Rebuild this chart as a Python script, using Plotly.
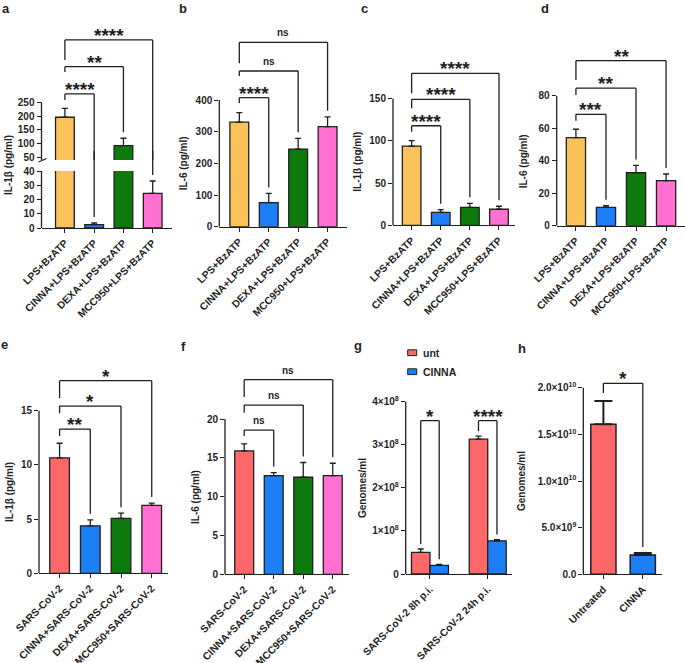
import plotly.graph_objects as go

W, H = 685, 663
FONT = "Liberation Sans, Arial, Helvetica, sans-serif"
INK = "#1f1f1f"
LW = 1.3
ORANGE, BLUE, GREEN, PINK, RED = "#FCC25A", "#1D7FF6", "#0C7A0C", "#FF70D2", "#FF6868"
BARGAP = 0.36

# ---------------- data ----------------
lps_groups = ["LPS+BzATP", "CINNA+LPS+BzATP", "DEXA+LPS+BzATP", "MCC950+LPS+BzATP"]
sars_groups = ["SARS-CoV-2", "CINNA+SARS-CoV-2", "DEXA+SARS-CoV-2", "MCC950+SARS-CoV-2"]
time_groups = ["SARS-CoV-2 8h p.i.", "SARS-CoV-2 24h p.i."]
h_groups = ["Untreated", "CINNA"]

a_il1b = [195.5, 2.4, 92.0, 24.3]
a_sem = [32.5, 1.1, 27.0, 8.7]
b_il6 = [330.0, 76.0, 245.0, 316.0]
b_sem = [30.0, 29.0, 34.0, 31.0]
c_il1b = [93.7, 15.3, 21.3, 19.0]
c_sem = [6.3, 3.2, 4.7, 3.5]
d_il6 = [54.3, 11.3, 32.7, 27.8]
d_sem = [5.2, 1.0, 4.5, 4.1]
e_il1b = [10.65, 4.38, 5.06, 6.26]
e_sem = [1.35, 0.55, 0.49, 0.22]
f_il6 = [15.9, 12.7, 12.5, 12.7]
f_sem = [0.9, 0.4, 1.9, 1.6]
g_unt = [5.0e7, 3.13e8]
g_unt_sem = [0.8e7, 0.07e8]
g_cinna = [2.0e7, 7.7e7]
g_cinna_sem = [0.25e7, 0.3e7]
h_genomes = [1.608e10, 2.07e9]
h_sem = [0.25e10, 0.21e9]

a_sig = ["****", "**", "****"]
b_sig = ["****", "ns", "ns"]
c_sig = ["****", "****", "****"]
d_sig = ["***", "**", "**"]
e_sig = ["**", "*", "*"]
f_sig = ["ns", "ns", "ns"]
g_sig = ["*", "****"]
h_sig = ["*"]

a_ticks_lo = [0, 10, 20, 30, 40]
a_ticks_hi = [50, 100, 150, 200, 250]
b_ticks = [0, 100, 200, 300, 400]
c_ticks = [0, 50, 100, 150]
d_ticks = [0, 20, 40, 60, 80]
e_ticks = [0, 5, 10, 15]
f_ticks = [0, 5, 10, 15, 20]
g_ticks = [0, 1e8, 2e8, 3e8, 4e8]
g_ticktext = ["0", "1×10<sup>8</sup>", "2×10<sup>8</sup>", "3×10<sup>8</sup>", "4×10<sup>8</sup>"]
h_ticks = [0, 5e9, 1e10, 1.5e10, 2e10]
h_ticktext = ["0.0", "5.0×10<sup>9</sup>", "1.0×10<sup>10</sup>", "1.5×10<sup>10</sup>", "2.0×10<sup>10</sup>"]

lps_colors = [ORANGE, BLUE, GREEN, PINK]
sars_colors = [RED, BLUE, GREEN, PINK]

# ---------------- helpers ----------------
fig = go.Figure()
L = dict(width=W, height=H, margin=dict(l=0, r=0, t=0, b=0, autoexpand=False), paper_bgcolor="white",
         plot_bgcolor="rgba(0,0,0,0)", barmode="group", bargap=BARGAP, bargroupgap=0,
         showlegend=False, font=dict(family=FONT, color=INK))
shapes, annots = [], []


def X(px):
    return min(1.0, px / W)


def Y(py):
    return 1 - py / H


def bold(size):
    return dict(family=FONT, size=size, color=INK, weight="bold")


def x_axis(key, px, rng, anchor, cats):
    L[key] = dict(domain=[X(px[0]), X(px[1])], range=list(rng), anchor=anchor, type="category",
                  categoryorder="array", categoryarray=cats, showline=True, linecolor=INK,
                  linewidth=LW, ticks="outside", ticklen=4, tickwidth=LW, tickcolor=INK,
                  tickangle=-45, tickfont=bold(10.3), showgrid=False, zeroline=False,
                  automargin=False)
    return "x" + key[5:]


def y_axis(key, px, rng, anchor, tickvals, ticktext=None):
    L[key] = dict(domain=[Y(px[0]), Y(px[1])], range=list(rng), anchor=anchor, showline=False,
                  ticks="outside", ticklen=4, tickwidth=LW, tickcolor=INK, tickvals=tickvals,
                  tickfont=bold(10), showgrid=False, zeroline=False, automargin=False)
    if ticktext is not None:
        L[key]["ticktext"] = ticktext
    ref = "y" + key[5:]
    shapes.append(dict(type="line", xref=anchor + " domain", yref=ref, x0=0, x1=0,
                       y0=rng[0], y1=tickvals[-1], line=dict(color=INK, width=LW)))
    return ref


def per_px(ref):
    ax = L["yaxis" + ref[1:]]
    return (ax["range"][1] - ax["range"][0]) / ((ax["domain"][1] - ax["domain"][0]) * H)


def line(xref, yref, x0, y0, x1, y1):
    shapes.append(dict(type="line", xref=xref, yref=yref, x0=x0, y0=y0, x1=x1, y1=y1,
                       line=dict(color=INK, width=LW)))


def sig(xref, yref, x, y, text):
    star = "*" in text
    annots.append(dict(xref=xref, yref=yref, x=x, y=y, text=text, showarrow=False,
                       xanchor="center", yanchor="middle", yshift=4.4 if star else 9.4,
                       font=bold(19 if star else 10)))


def bracket(xref, yref, xl, xr, yb, lb, rb, text):
    line(xref, yref, xl, yb, xr, yb)
    line(xref, yref, xl, lb, xl, yb)
    line(xref, yref, xr, rb, xr, yb)
    sig(xref, yref, (xl + xr) / 2, yb, text)


def bars(xref, yref, cats, vals, sems, colors, err_w=3, err_t=LW, outline=LW, name=None):
    fig.add_trace(go.Bar(
        x=cats, y=vals, xaxis=xref, yaxis=yref, name=name,
        marker=dict(color=colors, line=dict(color=INK, width=outline)),
        error_y=dict(type="data", array=sems, arrayminus=[0] * len(sems), symmetric=False,
                     color=INK, thickness=err_t, width=err_w),
        showlegend=False))


def ytitle(xpx, ypx, text):
    annots.append(dict(xref="paper", yref="paper", x=X(xpx), y=Y(ypx), text=text, textangle=-90,
                       showarrow=False, xanchor="center", yanchor="middle", font=bold(10)))


def letter(xpx, base_px, ch):
    # keep the text box inside the page
    top_px = max(0.0, base_px - 0.905 * 13)
    annots.append(dict(xref="paper", yref="paper", x=X(xpx), y=Y(top_px), text=ch, borderpad=0,
                       showarrow=False, xanchor="left", yanchor="top", font=bold(13)))


GAP = 6  # px between error bar and bracket leg

# ---------------- panel a (broken axis) ----------------
xa = x_axis("xaxis", (41.5, 172), (-0.8, 3.66), "y", lps_groups)
ya_lo = y_axis("yaxis", (228, 171), (0, 40), xa, a_ticks_lo)
ya_hi = y_axis("yaxis2", (160, 30), (40, 512.7), xa, a_ticks_hi)
for yr in (ya_lo, ya_hi):
    bars(xa, yr, lps_groups, a_il1b, a_sem, lps_colors)
# break mark on the axis
shapes.append(dict(type="line", xref="paper", yref="paper", x0=X(38.5), y0=Y(162), x1=X(46.5),
                   y1=Y(158.5), line=dict(color=INK, width=LW)))
a_h = [280.2, 379.5, 476.5]
a_leg = [6, 5.3, 20]
for k, i in enumerate([1, 2, 3]):
    yb = a_h[k]
    top = a_il1b[i] + a_sem[i]
    line(xa, ya_hi, 0, yb, i, yb)
    line(xa, ya_hi, 0, yb - a_leg[k] * per_px(ya_hi), 0, yb)
    if top <= L["yaxis"]["range"][1]:
        line(xa, ya_lo, i, top + GAP * per_px(ya_lo), i, L["yaxis"]["range"][1])
        line(xa, ya_lo + " domain", i, 1.0, i, 1.35)
        line(xa, ya_hi, i, L["yaxis2"]["range"][0], i, yb)
    else:
        line(xa, ya_hi, i, top + GAP * per_px(ya_hi), i, yb)
    sig(xa, ya_hi, i / 2, yb, a_sig[k])


# ---------------- four-bar panels ----------------
def four_panel(xkey, ykey, xpx, xrng, ypx, yrng, ticks, cats, vals, sems, colors, heights, legs, sigs):
    xr = x_axis(xkey, xpx, xrng, "y" + ykey[5:], cats)
    yr = y_axis(ykey, ypx, yrng, xr, ticks)
    bars(xr, yr, cats, vals, sems, colors)
    pp = per_px(yr)
    for k, i in enumerate([1, 2, 3]):
        bracket(xr, yr, 0, i, heights[k], heights[k] - legs[k] * pp,
                vals[i] + sems[i] + GAP * pp, sigs[k])


four_panel("xaxis2", "yaxis3", (219.3, 347), (-0.68, 3.66), (226.7, 30), (0, 621.1), b_ticks,
           lps_groups, b_il6, b_sem, lps_colors, [407.3, 491.6, 582.3], [5.3, 5, 21], b_sig)
four_panel("xaxis3", "yaxis4", (393, 515), (-0.64, 3.55), (225.3, 30), (0, 230.9), c_ticks,
           lps_groups, c_il1b, c_sem, lps_colors, [117.7, 148.9, 179.7], [6, 9, 20], c_sig)
four_panel("xaxis4", "yaxis5", (556.7, 685), (-0.64, 3.63), (225.7, 30), (0, 120.7), d_ticks,
           lps_groups, d_il6, d_sem, lps_colors, [68.7, 84.8, 101.8], [6.4, 6.7, 19.3], d_sig)
four_panel("xaxis5", "yaxis6", (39, 168), (-0.67, 3.53), (573.3, 360), (0, 19.68), e_ticks,
           sars_groups, e_il1b, e_sem, sars_colors, [13.31, 15.43, 17.77], [7, 7.3, 17.6], e_sig)
four_panel("xaxis6", "yaxis7", (225, 349), (-0.65, 3.55), (574.3, 360), (0, 27.6), f_ticks,
           sars_groups, f_il6, f_sem, sars_colors, [18.58, 21.8, 25.07], [6, 7.7, 17.4], f_sig)

# ---------------- panel g ----------------
xg = x_axis("xaxis7", (405.7, 512), (-0.42, 1.42), "y8", time_groups)
yg = y_axis("yaxis8", (574, 380), (0, 4.504e8), xg, g_ticks, g_ticktext)
bars(xg, yg, time_groups, g_unt, g_unt_sem, RED, name="unt")
bars(xg, yg, time_groups, g_cinna, g_cinna_sem, BLUE, name="CINNA")
off = (1 - BARGAP) / 4
ppg = per_px(yg)
g_h = [3.559e8, 3.559e8]
for i in range(2):
    bracket(xg, yg, i - off, i + off, g_h[i], g_unt[i] + g_unt_sem[i] + 5 * ppg,
            g_cinna[i] + g_cinna_sem[i] + 5 * ppg, g_sig[i])
# legend
for name, col, cy in (("unt", RED, 352.7), ("CINNA", BLUE, 371.7)):
    shapes.append(dict(type="rect", xref="paper", yref="paper", x0=X(407.7), x1=X(416.7),
                       y0=Y(cy + 2.9), y1=Y(cy - 2.9), fillcolor=col, line=dict(color=INK, width=1)))
    annots.append(dict(xref="paper", yref="paper", x=X(421), y=Y(cy), text=name, showarrow=False,
                       xanchor="left", yanchor="middle", font=bold(10.5)))

# ---------------- panel h ----------------
xh = x_axis("xaxis8", (583.3, 661.7), (-0.51, 1.48), "y9", h_groups)
yh = y_axis("yaxis9", (574.3, 370), (0, 2.19e10), xh, h_ticks, h_ticktext)
bars(xh, yh, h_groups, h_genomes, h_sem, [RED, BLUE], err_w=9, err_t=2, outline=1.5)
pph = per_px(yh)
bracket(xh, yh, 0, 1, 2.047e10, h_genomes[0] + h_sem[0] + 8 * pph,
        h_genomes[1] + h_sem[1] + 6 * pph, h_sig[0])

# ---------------- titles & letters ----------------
ytitle(8, 165, "IL-1β (pg/ml)")
ytitle(183.3, 163, "IL-6 (pg/ml)")
ytitle(356.7, 162, "IL-1β (pg/ml)")
ytitle(523.3, 161, "IL-6 (pg/ml)")
ytitle(9, 492, "IL-1β (pg/ml)")
ytitle(195, 497, "IL-6 (pg/ml)")
ytitle(362, 488, "Genomes/ml")
ytitle(521, 481, "Genomes/ml")

for xpx, base, ch in ((0.5, 8.3, "a"), (178.3, 11.7, "b"), (360, 10, "c"), (540, 11.7, "d"),
                      (0, 347.3, "e"), (180, 350, "f"), (353.3, 349, "g"), (516.7, 351.7, "h")):
    letter(xpx, base, ch)

L["shapes"] = shapes
L["annotations"] = annots
fig.update_layout(**L)
# remove the browser's default 8px body margin so the 685x663 figure fills the window exactly
fig.write_html("out.html", config={"displayModeBar": False},
               post_script="document.body.style.margin='0';document.body.style.overflow='hidden';")
